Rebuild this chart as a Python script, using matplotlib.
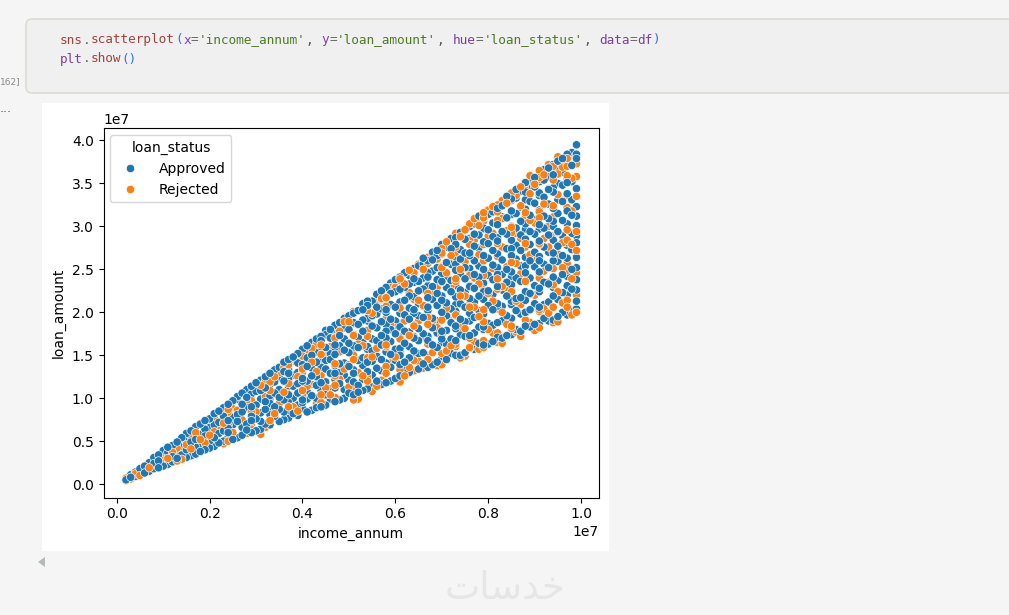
import numpy as np
import pandas as pd
import matplotlib
matplotlib.use('Agg')
import matplotlib.pyplot as plt
from matplotlib.patches import FancyBboxPatch, Rectangle, Polygon
import seaborn as sns

income_cols = [0.2, 0.3, 0.5, 0.7, 0.9, 1.1, 1.3, 1.5, 1.7, 1.9, 2.1, 2.3, 2.5, 2.7, 2.9, 3.1, 3.3,
               3.5, 3.7, 3.9, 4.1, 4.3, 4.5, 4.7, 4.9, 5.1, 5.3, 5.5, 5.7, 5.9, 6.1, 6.3, 6.5, 6.7,
               6.9, 7.1, 7.3, 7.5, 7.7, 7.9, 8.1, 8.3, 8.5, 8.7, 8.9, 9.1, 9.3, 9.5, 9.7, 9.9]

approved = [
    [0.5], [0.8, 1.1], [1.2, 1.8], [1.5, 2.5], [1.9, 2.7, 3.4], [2.3, 3.7, 4.3], [3.0, 3.6, 4.9],
    [3.1, 4.0, 5.3, 5.9], [3.5, 4.3, 5.2, 6.7], [4.0, 5.6, 6.4, 7.4], [4.4, 5.4, 6.9, 8.2],
    [5.0, 6.2, 7.9, 8.9], [5.2, 6.9, 7.8, 9.7], [5.7, 6.6, 8.4, 9.3, 10.6], [6.0, 7.9, 8.8, 10.5, 11.4],
    [6.4, 7.3, 8.3, 9.9, 10.9, 12.1], [6.9, 8.1, 9.4, 10.3, 11.6, 12.9], [7.3, 8.7, 10.1, 11.0, 12.4, 13.6],
    [7.7, 8.6, 9.5, 11.3, 12.2, 13.3, 14.5], [8.0, 9.2, 10.6, 11.7, 13.0, 14.1, 15.2],
    [8.4, 9.9, 10.8, 12.0, 13.7, 14.7, 16.1], [8.9, 10.0, 11.5, 12.5, 14.2, 15.4, 16.9],
    [9.2, 10.4, 11.9, 13.4, 14.4, 15.9, 17.4, 17.9], [9.6, 11.2, 12.2, 13.8, 15.1, 16.2, 17.6, 18.5],
    [10.0, 11.0, 12.7, 14.1, 15.6, 16.9, 18.2, 19.3], [10.4, 11.9, 13.3, 14.9, 15.8, 17.4, 18.7, 19.9],
    [10.9, 12.2, 13.8, 14.7, 16.5, 17.8, 19.1, 20.3, 21.0], [11.3, 12.7, 14.3, 15.5, 16.9, 18.4, 19.6, 21.3],
    [11.6, 13.2, 14.5, 16.2, 17.3, 18.9, 20.4, 21.5, 22.5], [12.0, 13.6, 15.1, 16.6, 18.0, 19.2, 20.9, 22.2, 23.4],
    [12.6, 13.9, 15.8, 17.1, 18.3, 19.9, 21.2, 22.7, 24.1], [13.0, 14.7, 16.0, 17.7, 19.2, 20.5, 21.9, 23.3, 24.3],
    [13.4, 15.2, 16.7, 18.1, 19.6, 21.0, 22.5, 23.6, 25.4], [13.6, 15.0, 17.2, 18.7, 20.2, 21.7, 23.1, 24.6, 26.0],
    [14.2, 15.9, 17.6, 19.0, 20.8, 22.2, 23.8, 25.2, 26.6, 27.2], [14.5, 16.3, 17.9, 19.6, 21.1, 22.9, 24.2, 25.8, 27.6],
    [15.0, 16.7, 18.4, 20.1, 21.8, 23.1, 24.9, 26.4, 27.9, 28.7], [15.3, 17.2, 18.9, 20.6, 22.3, 23.9, 25.2, 26.9, 28.5],
    [15.7, 17.6, 19.4, 21.2, 22.8, 24.4, 26.0, 27.7, 29.1, 30.3], [16.2, 18.0, 19.8, 21.5, 23.4, 25.0, 26.6, 28.2, 29.8, 31.0],
    [16.6, 18.5, 20.3, 22.1, 23.8, 25.5, 27.2, 28.8, 30.4, 31.7], [17.0, 19.0, 20.7, 22.6, 24.4, 26.1, 27.6, 29.4, 31.1, 32.4],
    [17.4, 19.3, 21.3, 23.2, 24.7, 26.6, 28.4, 30.0, 31.8, 33.2], [17.8, 19.8, 21.7, 23.6, 25.4, 27.2, 29.0, 30.6, 32.2, 34.1],
    [18.3, 20.3, 22.2, 24.0, 26.0, 27.9, 29.4, 31.3, 32.9, 34.7, 35.5], [18.7, 20.6, 22.8, 24.7, 26.5, 28.3, 30.2, 31.9, 33.6, 35.2],
    [19.0, 21.2, 23.3, 25.2, 27.0, 29.0, 30.9, 32.6, 34.3, 35.8, 36.8], [19.5, 21.5, 23.7, 25.9, 27.7, 29.4, 31.5, 33.1, 35.0, 36.6, 37.6],
    [19.7, 22.0, 24.2, 26.3, 28.1, 30.3, 31.9, 33.8, 35.6, 37.2, 38.4], [20.4, 21.3, 22.6, 23.8, 25.2, 26.4, 28.1, 28.9, 30.1, 31.2, 32.3, 34.4, 38.4, 37.9, 39.5],
]

rejected = [
    [0.7, 0.4], [0.6], [1.0], [1.9], [2.3], [3.0], [2.7, 4.2], [4.6], [6.0], [4.8], [6.1, 7.7], [4.7, 7.1], [6.0, 8.8],
    [7.5], [6.9, 9.7], [5.8, 11.5], [7.4, 10.9], [9.4, 13.0], [10.5, 13.8], [8.5, 12.5], [11.4, 15.4], [9.4, 13.1, 16.3],
    [11.2, 14.9], [10.1, 12.6, 17.1], [13.4, 18.9], [9.8, 15.0, 20.1], [12.6, 16.1, 20.9], [10.8, 14.8, 19.9], [12.1, 17.1, 21.6],
    [14.1, 18.5, 22.9], [11.9, 15.4, 20.9, 23.9], [13.6, 17.3, 22.3, 24.9], [14.3, 19.0, 21.4, 25.6], [16.3, 19.4, 24.0, 26.4],
    [13.8, 18.2, 22.9, 26.2], [15.5, 20.5, 24.6, 28.2], [16.0, 19.6, 23.6, 27.0, 29.2], [14.9, 18.1, 21.9, 25.9, 29.6],
    [16.6, 20.6, 24.0, 28.4, 30.9], [15.9, 18.9, 22.6, 26.0, 30.6, 31.6], [17.6, 21.3, 25.1, 29.2, 32.3], [16.4, 20.0, 23.0, 27.6, 30.9, 33.0],
    [18.1, 22.4, 25.8, 29.9, 33.9], [17.2, 20.9, 24.5, 28.6, 32.4, 34.6], [18.8, 22.1, 26.7, 30.7, 33.8, 35.9],
    [18.2, 20.1, 24.0, 27.9, 31.0, 35.7, 36.5], [19.9, 23.5, 27.6, 30.0, 34.4, 37.2], [18.9, 22.4, 26.8, 29.3, 33.7, 36.1, 38.1],
    [20.6, 24.9, 28.4, 32.2, 35.9, 37.9], [20.0, 22.0, 24.6, 27.2, 29.4, 33.5, 35.8, 37.3],
]

# second pass over the wedge, the even income columns
income_cols2 = [0.4, 0.6, 0.8, 1.0, 1.2, 1.4, 1.6, 1.8, 2.0, 2.2, 2.4, 2.6, 2.8, 3.0, 3.2, 3.4, 3.6, 3.8, 4.0, 4.2,
                4.4, 4.6, 4.8, 5.0, 5.2, 5.4, 5.6, 5.8, 6.0, 6.2, 6.4, 6.6, 6.8, 7.0, 7.2, 7.4, 7.6, 7.8, 8.0, 8.2,
                8.4, 8.6, 8.8, 9.0, 9.2, 9.4, 9.6, 9.8]

approved2 = [
    [0.9, 1.4], [1.3, 2.1], [1.8, 2.4, 3.1], [2.1, 3.3, 3.9], [2.6, 3.2, 4.5], [3.4, 4.4, 5.4], [3.3, 4.9, 6.2],
    [3.8, 4.7, 5.8, 7.0], [4.2, 5.0, 6.6, 7.6], [4.8, 5.9, 7.2, 8.5], [5.5, 6.5, 7.4, 9.3], [5.4, 7.3, 8.1, 9.9, 10.2],
    [6.3, 7.0, 8.9, 10.1, 11.0], [6.2, 7.6, 9.2, 10.8, 11.8], [7.0, 8.7, 9.6, 11.2, 12.5], [7.9, 9.0, 10.6, 11.9, 13.3],
    [7.5, 8.4, 9.8, 12.0, 13.1, 14.2], [8.2, 10.0, 11.4, 12.7, 14.8], [8.8, 9.5, 11.1, 12.3, 13.9, 15.7],
    [8.6, 10.3, 12.6, 13.5, 15.0, 16.5], [9.0, 10.9, 11.8, 13.2, 14.6, 16.7, 17.2], [9.9, 11.1, 12.9, 14.5, 15.2, 17.0, 18.0],
    [9.8, 11.7, 13.0, 14.0, 16.1, 17.3, 18.8], [10.6, 12.1, 13.7, 15.3, 16.4, 18.0, 19.6], [10.7, 11.5, 14.4, 15.9, 17.1, 18.6, 20.2],
    [11.1, 13.0, 14.2, 15.7, 17.9, 19.3, 20.8, 21.3], [12.0, 13.5, 14.9, 16.7, 18.2, 19.8, 20.6, 22.1], [11.8, 12.9, 15.4, 17.0, 18.6, 20.0, 21.7, 22.9],
    [12.3, 14.4, 15.7, 17.5, 19.0, 20.6, 22.4, 23.8], [13.3, 14.2, 16.4, 17.8, 19.7, 21.4, 22.9, 24.6], [13.2, 15.5, 17.0, 18.5, 20.3, 21.8, 23.5, 25.1],
    [14.0, 15.3, 17.5, 19.4, 20.7, 22.7, 24.0, 25.7, 26.3], [13.9, 16.2, 18.2, 19.3, 21.5, 23.0, 24.8, 26.1, 27.0],
    [14.6, 16.5, 17.8, 20.0, 21.9, 23.6, 24.5, 26.8, 27.9], [15.2, 16.9, 18.8, 20.4, 22.4, 23.7, 25.6, 27.4, 28.6],
    [15.0, 17.4, 19.2, 21.0, 22.6, 24.5, 26.2, 27.3, 29.3], [15.8, 17.3, 19.9, 21.6, 23.1, 25.1, 26.9, 28.6, 30.0],
    [16.4, 18.3, 20.2, 21.9, 24.1, 25.4, 27.5, 29.0, 30.6, 31.2], [16.3, 18.7, 20.8, 22.5, 24.3, 26.3, 28.0, 29.6, 31.4],
    [17.1, 18.8, 21.0, 23.0, 25.2, 26.8, 28.3, 30.2, 32.1], [17.3, 19.6, 21.9, 23.5, 25.0, 27.4, 29.1, 31.0, 32.8, 33.5],
    [18.0, 20.2, 21.6, 24.0, 26.2, 27.8, 29.8, 31.5, 33.3, 34.3], [18.4, 20.0, 22.4, 24.6, 26.4, 28.5, 30.3, 32.0, 34.0, 35.1],
    [18.6, 21.0, 23.1, 25.3, 27.0, 29.1, 30.8, 32.7, 34.6, 35.7], [19.3, 20.9, 23.5, 25.6, 27.6, 29.8, 31.2, 33.4, 35.4, 36.6],
    [19.1, 21.9, 24.1, 26.0, 28.4, 30.0, 32.1, 34.0, 36.0, 37.2], [20.0, 22.3, 24.4, 26.6, 28.9, 30.7, 32.9, 34.8, 36.3, 37.9],
    [20.1, 22.7, 25.0, 27.3, 29.2, 31.3, 33.1, 35.2, 37.1, 38.6],
]

rejected2 = [
    [1.2], [1.7], [2.0], [2.8], [3.7], [2.9], [4.1, 5.6], [5.2], [5.7], [6.6], [5.0, 8.4], [8.6], [5.9, 9.7], [8.4],
    [6.6, 10.2, 11.9], [8.2, 12.5], [10.7, 13.6], [9.0, 14.3], [10.3, 13.0], [11.6, 14.2, 15.8], [9.5, 12.4, 16.2], [10.4, 16.0],
    [12.2, 15.4, 17.8], [11.3, 13.9, 18.9], [9.9, 13.0, 16.3], [12.5, 17.2], [11.4, 15.8, 21.2], [13.7, 16.2, 20.7], [14.8, 18.2, 22.9],
    [12.6, 16.5, 19.0, 23.3], [14.4, 18.4, 24.3], [13.5, 17.1, 20.8, 25.0], [15.3, 19.0, 22.3, 26.4], [13.9, 17.4, 21.2, 25.2, 27.4],
    [16.1, 19.3, 23.1, 26.6], [14.7, 18.3, 21.9, 25.0, 28.8], [17.0, 20.6, 24.3, 27.9, 30.3], [15.7, 19.5, 23.3, 26.7, 30.1],
    [18.0, 22.2, 24.5, 28.9, 31.9], [16.5, 20.4, 23.9, 28.0, 31.7], [18.6, 22.9, 25.3, 29.5, 32.7], [17.7, 21.3, 25.7, 29.2, 33.6],
    [19.9, 23.7, 28.0, 31.1, 34.2], [17.9, 22.0, 26.4, 30.4, 34.9], [20.4, 24.8, 28.6, 32.6, 36.0], [18.8, 23.2, 27.0, 31.1, 35.4, 37.0],
    [21.1, 25.2, 28.1, 33.0, 36.9], [19.7, 23.9, 27.9, 31.8, 35.6, 38.3],
]

# third pass, points that fill the gaps left in the middle of the wedge
income_cols3 = [2.4, 2.9, 3.3, 3.7, 4.0, 4.4, 4.7, 5.1, 5.4, 5.8, 6.1, 6.4, 6.7, 7.0, 7.3, 7.6, 7.9, 8.2, 8.5, 8.8, 9.1, 9.4, 9.7]

approved3 = [
    [6.0, 7.7], [7.4, 9.0], [8.8, 10.8], [10.4, 12.9], [9.8, 12.0], [11.6, 13.6, 16.0], [12.9, 15.9], [12.9, 16.1, 18.8],
    [13.1, 16.0, 19.0], [14.1, 17.8, 20.3], [15.0, 18.7, 22.6], [14.9, 19.9, 23.9], [16.7, 20.6, 24.1], [16.9, 21.4, 25.3],
    [18.1, 20.9, 25.6], [19.0, 23.0, 26.6], [18.3, 22.4, 26.2, 29.7], [20.7, 24.4, 28.7], [20.9, 24.2, 27.4, 31.4],
    [21.4, 25.4, 29.7, 33.1], [22.4, 26.0, 29.7, 33.9], [22.9, 26.9, 30.6, 34.5], [23.1, 27.8, 31.8, 35.1],
]

rejected3 = [
    [6.9, 8.7], [6.4, 8.4, 10.2], [7.7, 9.9, 11.9], [9.0, 11.7, 13.9], [10.9, 13.4, 14.9], [10.4, 12.7, 15.1], [11.5, 14.0, 17.0],
    [11.0, 14.5, 17.3], [12.0, 14.7, 17.9, 20.2], [12.9, 16.0, 19.3, 21.7], [13.3, 16.9, 20.5, 23.7], [13.2, 17.2, 21.5, 24.6],
    [14.5, 18.6, 22.2, 25.7], [15.2, 19.1, 23.5, 26.9], [16.3, 19.7, 23.9, 27.6], [15.9, 20.9, 24.8, 28.4], [16.7, 20.3, 24.3, 27.9, 31.0],
    [17.6, 22.7, 26.5, 30.7, 32.5], [18.4, 22.6, 25.9, 29.3, 33.0], [19.1, 23.6, 27.6, 31.6, 35.0], [20.3, 24.2, 28.0, 31.7, 35.5],
    [20.6, 25.1, 28.9, 32.4, 36.3], [21.4, 25.7, 29.6, 33.6, 37.0],
]

cell_line1 = [('sns', '#a0433c'), ('.', '#666666'), ('scatterplot', '#a0433c'), ('(', '#2f6fdd'),
              ('x', '#7a3fa0'), ('=', '#666666'), ("'income_annum'", '#4f7a1f'), (', ', '#555555'),
              ('y', '#7a3fa0'), ('=', '#666666'), ("'loan_amount'", '#4f7a1f'), (', ', '#555555'),
              ('hue', '#7a3fa0'), ('=', '#666666'), ("'loan_status'", '#4f7a1f'), (', ', '#555555'),
              ('data', '#7a3fa0'), ('=', '#666666'), ('df', '#7a3fa0'), (')', '#2f6fdd')]
cell_line2 = [('plt', '#7a3fa0'), ('.', '#666666'), ('show', '#a0433c'), ('()', '#2f6fdd')]

rows = []
for cols, a_list, r_list in ((income_cols, approved, rejected), (income_cols2, approved2, rejected2),
                             (income_cols3, approved3, rejected3)):
    for x, a_col, r_col in zip(cols, a_list, r_list):
        for v in a_col:
            rows.append((x * 1e6, v * 1e6, 'Approved'))
        for v in r_col:
            rows.append((x * 1e6, v * 1e6, 'Rejected'))
df = pd.DataFrame(rows, columns=['income_annum', 'loan_amount', 'loan_status'])
# mix the drawing order so neither status sits always on top
df = df.iloc[np.argsort((df.loan_amount.values / 1e5 * 37) % 11, kind='stable')]

W, H = 1009, 615
fig = plt.figure(figsize=(W / 100, H / 100), dpi=100, facecolor='#f5f5f5')

# notebook bits, drawn in pixel coordinates
bg = fig.add_axes([0, 0, 1, 1], zorder=0)
bg.set_xlim(0, W)
bg.set_ylim(H, 0)
bg.axis('off')
bg.add_patch(FancyBboxPatch((26, 19), 1100, 74, boxstyle='round,pad=0,rounding_size=6',
                            fc='#f0f0f0', ec='#d8d8d0', lw=1))
bg.add_patch(Rectangle((42, 103), 567, 448, fc='white', ec='none'))
bg.add_patch(Polygon([[38, 562], [45, 557], [45, 567]], fc='#b5b9b9', ec='none'))
bg.text(21, 82, '162]', fontsize=6.5, color='#8a8a8a', ha='right', va='center')
bg.text(0, 108, '...', fontsize=9, color='#555555', va='center')
bg.text(505, 589, '\ufe95\ufe8e\ufeb3\ufeaa\ufea7', fontsize=27, color='#e6e6e6', ha='center', va='center')

for line, y in ((cell_line1, 40), (cell_line2, 59)):
    px = 60
    for tok, col in line:
        bg.text(px, y, tok, family='DejaVu Sans Mono', fontsize=9.2, color=col, va='center')
        px += len(tok) * 7.7

ax = fig.add_axes([103.5 / W, 1 - 497.5 / H, 495.5 / W, 369.5 / H], zorder=1)
sns.scatterplot(x='income_annum', y='loan_amount', hue='loan_status', hue_order=['Approved', 'Rejected'],
                data=df, ax=ax)
sns.move_legend(ax, 'upper left', handletextpad=1.1)

fig.savefig('out.png', dpi=100, facecolor=fig.get_facecolor())
